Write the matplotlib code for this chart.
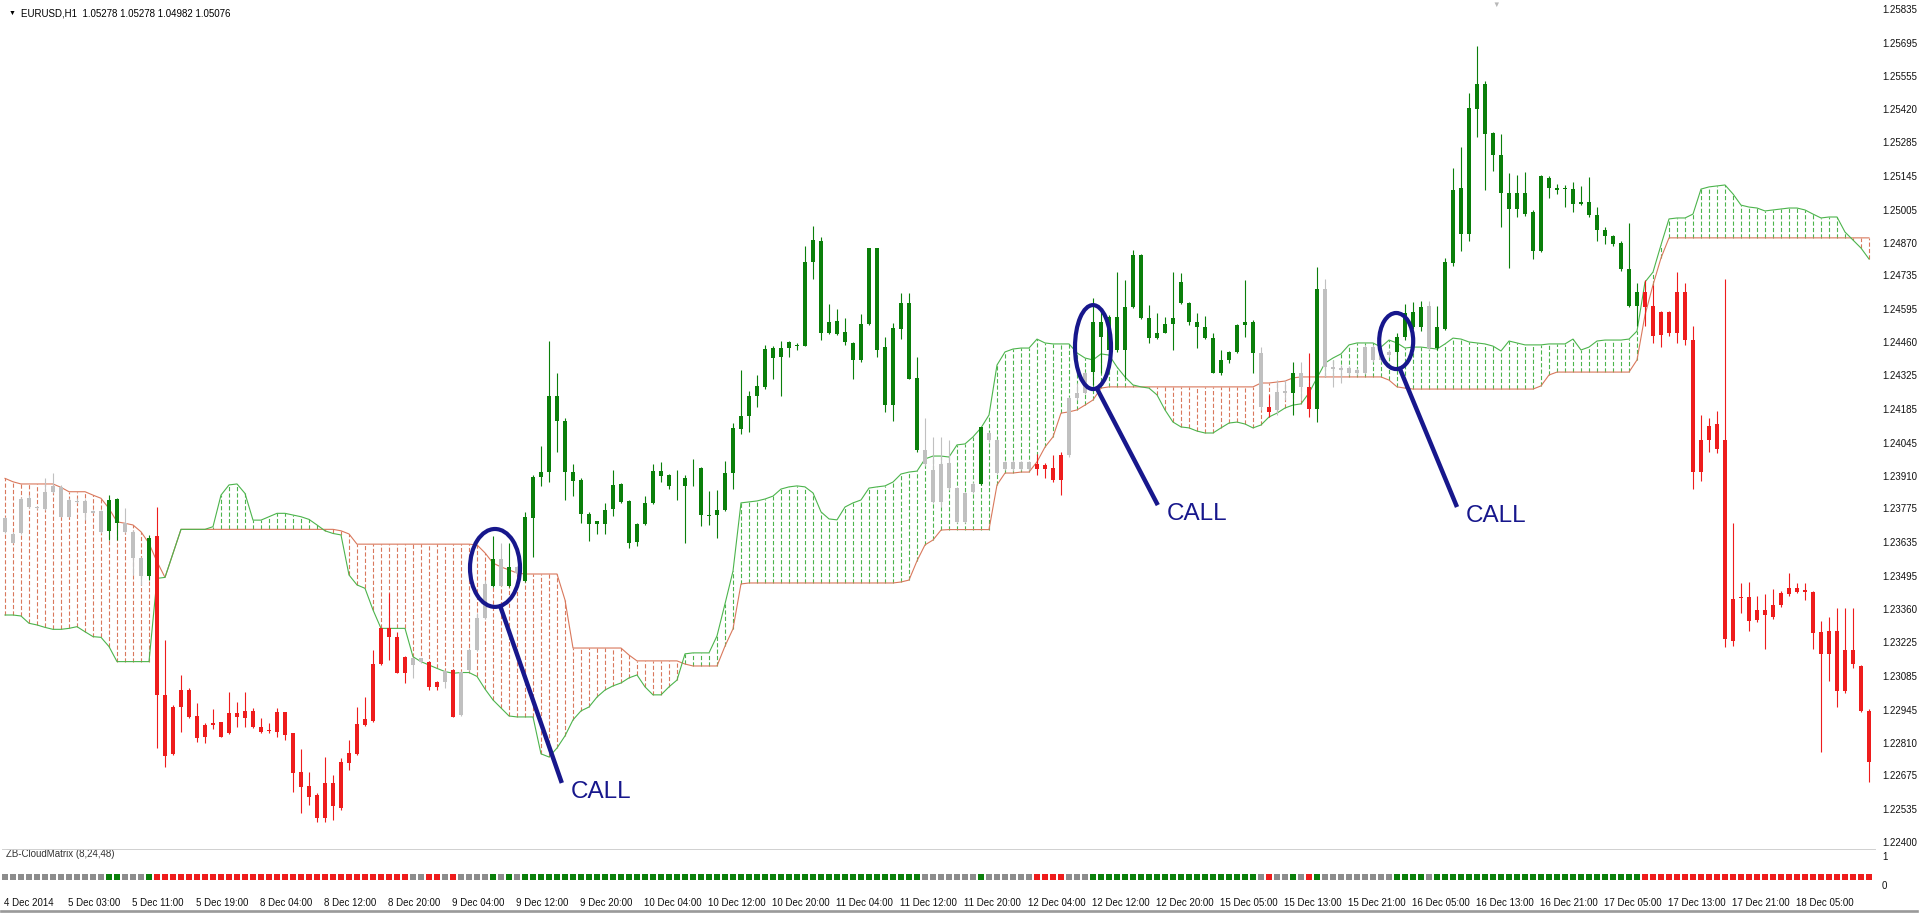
import numpy as np
import matplotlib
matplotlib.use("Agg")
import matplotlib.pyplot as plt
from matplotlib.patches import Ellipse, Rectangle
from matplotlib.transforms import blended_transform_factory

plt.rcParams["font.family"] = ["Liberation Sans", "DejaVu Sans"]
plt.rcParams["lines.scale_dashes"] = False

W, H = 1919, 913

symbol_title = "EURUSD,H1  1.05278 1.05278 1.04982 1.05076"
indicator_name = "ZB-CloudMatrix (8,24,48)"

date_labels = ["4 Dec 2014", "5 Dec 03:00", "5 Dec 11:00", "5 Dec 19:00", "8 Dec 04:00",
               "8 Dec 12:00", "8 Dec 20:00", "9 Dec 04:00", "9 Dec 12:00", "9 Dec 20:00",
               "10 Dec 04:00", "10 Dec 12:00", "10 Dec 20:00", "11 Dec 04:00", "11 Dec 12:00",
               "11 Dec 20:00", "12 Dec 04:00", "12 Dec 12:00", "12 Dec 20:00", "15 Dec 05:00",
               "15 Dec 13:00", "15 Dec 21:00", "16 Dec 05:00", "16 Dec 13:00", "16 Dec 21:00",
               "17 Dec 05:00", "17 Dec 13:00", "17 Dec 21:00", "18 Dec 05:00"]

price_ticks = [1.25835, 1.25695, 1.25555, 1.25420, 1.25285, 1.25145, 1.25005, 1.24870,
               1.24735, 1.24595, 1.24460, 1.24325, 1.24185, 1.24045, 1.23910, 1.23775,
               1.23635, 1.23495, 1.23360, 1.23225, 1.23085, 1.22945, 1.22810, 1.22675,
               1.22535, 1.22400]

open_ = [
    1.23734, 1.23670, 1.23814, 1.23819, 1.23782, 1.23844, 1.23867, 1.23865, 1.23810, 1.23806,
    1.23807, 1.23764, 1.23764, 1.23683, 1.23716, 1.23714, 1.23678, 1.23572, 1.23498, 1.23663,
    1.23007, 1.22958, 1.23027, 1.23027, 1.22920, 1.22883, 1.22890, 1.22894, 1.22934, 1.22931,
    1.22941, 1.22941, 1.22876, 1.22861, 1.22935, 1.22935, 1.22849, 1.22688, 1.22632, 1.22595,
    1.22643, 1.22643, 1.22732, 1.22766, 1.22887, 1.22908, 1.23134, 1.23281, 1.23281, 1.23247,
    1.23164, 1.23158, 1.23158, 1.23144, 1.23061, 1.23105, 1.23109, 1.23102, 1.23192, 1.23322,
    1.23465, 1.23457, 1.23568, 1.23457, 1.23534, 1.23475, 1.23737, 1.23906, 1.23925, 1.24134,
    1.23925, 1.23887, 1.23752, 1.23710, 1.23710, 1.23710, 1.23774, 1.23803, 1.23634, 1.23637,
    1.23710, 1.23796, 1.23910, 1.23866, 1.23866, 1.23866, 1.23899, 1.23749, 1.23744, 1.23749,
    1.23769, 1.23921, 1.24102, 1.24156, 1.24237, 1.24274, 1.24396, 1.24399, 1.24436, 1.24443,
    1.24446, 1.24789, 1.24499, 1.24499, 1.24494, 1.24461, 1.24387, 1.24387, 1.24534, 1.24428,
    1.24200, 1.24200, 1.24516, 1.24310, 1.24016, 1.24016, 1.23935, 1.23957, 1.23961, 1.23858,
    1.23837, 1.23876, 1.23876, 1.24085, 1.24057, 1.23968, 1.23968, 1.23968, 1.23968, 1.23958,
    1.23954, 1.23940, 1.23995, 1.24229, 1.24249, 1.24332, 1.24339, 1.24483, 1.24428, 1.24428,
    1.24428, 1.24606, 1.24558, 1.24476, 1.24476, 1.24499, 1.24535, 1.24623, 1.24544, 1.24524,
    1.24476, 1.24332, 1.24332, 1.24387, 1.24421, 1.24531, 1.24417, 1.24417, 1.24194, 1.24256,
    1.24260, 1.24249, 1.24334, 1.24274, 1.24183, 1.24678, 1.24359, 1.24355, 1.24355, 1.24347,
    1.24441, 1.24441, 1.24414, 1.24421, 1.24421, 1.24483, 1.24522, 1.24522, 1.24610, 1.24436,
    1.24516, 1.24786, 1.24906, 1.24906, 1.25422, 1.25316, 1.25230, 1.25076, 1.25010, 1.25010,
    1.24990, 1.24836, 1.24836, 1.25096, 1.25086, 1.25090, 1.25030, 1.25030, 1.24986, 1.24922,
    1.24896, 1.24866, 1.24762, 1.24610, 1.24610, 1.24666, 1.24610, 1.24586, 1.24586, 1.24666,
    1.24666, 1.24470, 1.24056, 1.24116, 1.24122, 1.24056, 1.23402, 1.23412, 1.23410, 1.23356,
    1.23356, 1.23376, 1.23426, 1.23446, 1.23446, 1.23438, 1.23430, 1.23266, 1.23270, 1.23270,
    1.23190, 1.23190, 1.23126, 1.22942,
]

close = [
    1.23679, 1.23634, 1.23672, 1.23780, 1.23777, 1.23771, 1.23844, 1.23741, 1.23741, 1.23801,
    1.23755, 1.23758, 1.23679, 1.23810, 1.23812, 1.23677, 1.23569, 1.23498, 1.23652, 1.23007,
    1.22757, 1.22763, 1.22958, 1.22915, 1.22828, 1.22835, 1.22884, 1.22835, 1.22849, 1.22915,
    1.22910, 1.22876, 1.22856, 1.22857, 1.22856, 1.22842, 1.22687, 1.22629, 1.22588, 1.22498,
    1.22498, 1.22547, 1.22540, 1.22728, 1.22763, 1.22883, 1.22901, 1.23134, 1.23244, 1.23099,
    1.23099, 1.23130, 1.23144, 1.23038, 1.23041, 1.23061, 1.22917, 1.22924, 1.23109, 1.23192,
    1.23325, 1.23568, 1.23457, 1.23534, 1.23509, 1.23740, 1.23906, 1.23925, 1.24237, 1.24237,
    1.24137, 1.23925, 1.23891, 1.23752, 1.23722, 1.23769, 1.23872, 1.23877, 1.23806, 1.23710,
    1.23799, 1.23928, 1.23928, 1.23913, 1.23869, 1.23902, 1.23902, 1.23943, 1.23749, 1.23769,
    1.23921, 1.24105, 1.24156, 1.24237, 1.24278, 1.24431, 1.24438, 1.24436, 1.24461, 1.24450,
    1.24789, 1.24881, 1.24877, 1.24543, 1.24549, 1.24502, 1.24458, 1.24534, 1.24847, 1.24847,
    1.24440, 1.24519, 1.24622, 1.24622, 1.24313, 1.23957, 1.23803, 1.23803, 1.23858, 1.23721,
    1.23721, 1.23844, 1.24109, 1.24057, 1.23920, 1.23936, 1.23936, 1.23936, 1.23936, 1.23936,
    1.23936, 1.23892, 1.23892, 1.23995, 1.24229, 1.24249, 1.24544, 1.24544, 1.24565, 1.24565,
    1.24606, 1.24819, 1.24819, 1.24558, 1.24496, 1.24535, 1.24558, 1.24709, 1.24623, 1.24544,
    1.24524, 1.24476, 1.24387, 1.24421, 1.24531, 1.24544, 1.24544, 1.24194, 1.24174, 1.24181,
    1.24249, 1.24334, 1.24277, 1.24183, 1.24678, 1.24359, 1.24351, 1.24347, 1.24334, 1.24334,
    1.24334, 1.24387, 1.24387, 1.24407, 1.24483, 1.24582, 1.24586, 1.24606, 1.24436, 1.24522,
    1.24790, 1.25086, 1.25096, 1.25426, 1.25526, 1.25522, 1.25322, 1.25230, 1.25076, 1.25076,
    1.25076, 1.24996, 1.25146, 1.25136, 1.25096, 1.25096, 1.25090, 1.25036, 1.25036, 1.24986,
    1.24922, 1.24896, 1.24870, 1.24762, 1.24666, 1.24606, 1.24486, 1.24490, 1.24496, 1.24496,
    1.24470, 1.23926, 1.23926, 1.24056, 1.24022, 1.23236, 1.23230, 1.23408, 1.23310, 1.23316,
    1.23336, 1.23326, 1.23376, 1.23422, 1.23430, 1.23432, 1.23262, 1.23176, 1.23176, 1.23022,
    1.23022, 1.23136, 1.22942, 1.22730,
]

high = [
    1.23741, 1.23679, 1.23823, 1.23830, 1.23785, 1.23899, 1.23920, 1.23872, 1.23817, 1.23817,
    1.23812, 1.23769, 1.23769, 1.23830, 1.23817, 1.23775, 1.23686, 1.23576, 1.23666, 1.23782,
    1.23233, 1.22965, 1.23089, 1.23034, 1.22975, 1.22890, 1.22949, 1.22897, 1.23020, 1.22979,
    1.23020, 1.22952, 1.22910, 1.22890, 1.22952, 1.22938, 1.22851, 1.22784, 1.22691, 1.22601,
    1.22753, 1.22677, 1.22746, 1.22821, 1.22958, 1.23000, 1.23192, 1.23284, 1.23425, 1.23267,
    1.23167, 1.23160, 1.23160, 1.23147, 1.23064, 1.23109, 1.23112, 1.23105, 1.23199, 1.23343,
    1.23479, 1.23663, 1.23634, 1.23634, 1.23540, 1.23759, 1.23913, 1.24031, 1.24465, 1.24333,
    1.24149, 1.23957, 1.23899, 1.23759, 1.23725, 1.23799, 1.23935, 1.23880, 1.23810, 1.23715,
    1.23828, 1.23960, 1.23965, 1.23916, 1.23935, 1.23913, 1.23980, 1.23946, 1.23847, 1.23852,
    1.23969, 1.24127, 1.24347, 1.24259, 1.24325, 1.24450, 1.24443, 1.24465, 1.24465, 1.24458,
    1.24855, 1.24940, 1.24892, 1.24619, 1.24597, 1.24561, 1.24461, 1.24575, 1.24850, 1.24850,
    1.24480, 1.24539, 1.24661, 1.24661, 1.24399, 1.24149, 1.24068, 1.24068, 1.24057, 1.23865,
    1.23844, 1.23885, 1.24112, 1.24092, 1.24060, 1.23971, 1.23975, 1.23971, 1.23971, 1.23999,
    1.23961, 1.23995, 1.24009, 1.24236, 1.24290, 1.24339, 1.24641, 1.24593, 1.24572, 1.24750,
    1.24716, 1.24840, 1.24823, 1.24613, 1.24579, 1.24565, 1.24750, 1.24744, 1.24627, 1.24579,
    1.24568, 1.24496, 1.24428, 1.24425, 1.24535, 1.24716, 1.24551, 1.24441, 1.24242, 1.24304,
    1.24304, 1.24380, 1.24380, 1.24417, 1.24771, 1.24719, 1.24387, 1.24366, 1.24362, 1.24355,
    1.24448, 1.24448, 1.24420, 1.24428, 1.24496, 1.24617, 1.24626, 1.24630, 1.24630, 1.24610,
    1.24806, 1.25176, 1.25266, 1.25486, 1.25682, 1.25536, 1.25326, 1.25316, 1.25156, 1.25150,
    1.25162, 1.25006, 1.25150, 1.25146, 1.25110, 1.25106, 1.25122, 1.25102, 1.25142, 1.25016,
    1.24936, 1.24902, 1.24876, 1.24950, 1.24706, 1.24716, 1.24696, 1.24590, 1.24590, 1.24750,
    1.24706, 1.24526, 1.24162, 1.24146, 1.24176, 1.24722, 1.23716, 1.23466, 1.23470, 1.23416,
    1.23422, 1.23442, 1.23436, 1.23510, 1.23466, 1.23466, 1.23436, 1.23310, 1.23326, 1.23366,
    1.23366, 1.23366, 1.23132, 1.22948,
]

low = [
    1.23672, 1.23631, 1.23670, 1.23775, 1.23774, 1.23769, 1.23840, 1.23738, 1.23738, 1.23796,
    1.23727, 1.23755, 1.23675, 1.23645, 1.23645, 1.23672, 1.23501, 1.23460, 1.23480, 1.22787,
    1.22711, 1.22759, 1.22853, 1.22910, 1.22814, 1.22807, 1.22865, 1.22832, 1.22846, 1.22876,
    1.22876, 1.22869, 1.22849, 1.22849, 1.22835, 1.22821, 1.22608, 1.22519, 1.22553, 1.22485,
    1.22485, 1.22492, 1.22533, 1.22698, 1.22759, 1.22880, 1.22897, 1.23130, 1.23151, 1.23096,
    1.23055, 1.23075, 1.23140, 1.23027, 1.23027, 1.23034, 1.22915, 1.22921, 1.23107, 1.23189,
    1.23318, 1.23450, 1.23455, 1.23450, 1.23505, 1.23472, 1.23575, 1.23869, 1.23884, 1.24009,
    1.23810, 1.23825, 1.23715, 1.23641, 1.23671, 1.23671, 1.23744, 1.23796, 1.23612, 1.23619,
    1.23707, 1.23793, 1.23884, 1.23854, 1.23810, 1.23634, 1.23869, 1.23704, 1.23707, 1.23652,
    1.23766, 1.23854, 1.24083, 1.24090, 1.24193, 1.24269, 1.24310, 1.24237, 1.24399, 1.24428,
    1.24443, 1.24722, 1.24469, 1.24494, 1.24490, 1.24450, 1.24310, 1.24377, 1.24531, 1.24399,
    1.24171, 1.24134, 1.24472, 1.24307, 1.24009, 1.23950, 1.23796, 1.23781, 1.23851, 1.23714,
    1.23714, 1.23837, 1.23871, 1.24050, 1.23917, 1.23933, 1.23930, 1.23933, 1.23933, 1.23913,
    1.23899, 1.23885, 1.23831, 1.23988, 1.24222, 1.24246, 1.24284, 1.24332, 1.24421, 1.24421,
    1.24311, 1.24599, 1.24554, 1.24455, 1.24472, 1.24496, 1.24428, 1.24618, 1.24531, 1.24435,
    1.24472, 1.24332, 1.24325, 1.24376, 1.24417, 1.24483, 1.24332, 1.24181, 1.24153, 1.24160,
    1.24222, 1.24160, 1.24222, 1.24150, 1.24133, 1.24318, 1.24277, 1.24290, 1.24327, 1.24327,
    1.24331, 1.24380, 1.24380, 1.24400, 1.24359, 1.24469, 1.24516, 1.24506, 1.24430, 1.24426,
    1.24510, 1.24776, 1.24836, 1.24876, 1.25306, 1.25086, 1.25166, 1.24936, 1.24766, 1.24976,
    1.24982, 1.24802, 1.24830, 1.25056, 1.25070, 1.25016, 1.24996, 1.25026, 1.24976, 1.24876,
    1.24866, 1.24856, 1.24752, 1.24606, 1.24526, 1.24526, 1.24456, 1.24442, 1.24486, 1.24456,
    1.24450, 1.23856, 1.23890, 1.24006, 1.24002, 1.23206, 1.23210, 1.23346, 1.23270, 1.23306,
    1.23196, 1.23320, 1.23370, 1.23416, 1.23426, 1.23396, 1.23196, 1.22770, 1.23066, 1.22956,
    1.23016, 1.23116, 1.22936, 1.22650,
]

span_green = [
    1.23336, 1.23336, 1.23332, 1.23302, 1.23295, 1.23285, 1.23277, 1.23277, 1.23281, 1.23288,
    1.23267, 1.23247, 1.23244, 1.23206, 1.23144, 1.23144, 1.23144, 1.23144, 1.23144, 1.23487,
    1.23491, 1.23590, 1.23689, 1.23689, 1.23689, 1.23689, 1.23700, 1.23830, 1.23872, 1.23876,
    1.23837, 1.23727, 1.23727, 1.23741, 1.23755, 1.23755, 1.23748, 1.23741, 1.23730, 1.23707,
    1.23683, 1.23672, 1.23666, 1.23501, 1.23460, 1.23446, 1.23357, 1.23281, 1.23281, 1.23281,
    1.23281, 1.23164, 1.23144, 1.23130, 1.23116, 1.23103, 1.23096, 1.23099, 1.23099, 1.23083,
    1.23031, 1.22986, 1.22953, 1.22920, 1.22916, 1.22916, 1.22916, 1.22764, 1.22751, 1.22788,
    1.22838, 1.22904, 1.22941, 1.22957, 1.22998, 1.23027, 1.23044, 1.23056, 1.23077, 1.23089,
    1.23040, 1.23007, 1.23007, 1.23040, 1.23068, 1.23176, 1.23180, 1.23180, 1.23180, 1.23250,
    1.23382, 1.23517, 1.23798, 1.23802, 1.23806, 1.23814, 1.23826, 1.23855, 1.23864, 1.23868,
    1.23864, 1.23839, 1.23761, 1.23732, 1.23728, 1.23781, 1.23798, 1.23810, 1.23859, 1.23864,
    1.23868, 1.23884, 1.23917, 1.23925, 1.23929, 1.23979, 1.23991, 1.23991, 1.23987, 1.24037,
    1.24041, 1.24070, 1.24107, 1.24160, 1.24366, 1.24420, 1.24432, 1.24436, 1.24436, 1.24473,
    1.24457, 1.24453, 1.24453, 1.24453, 1.24416, 1.24395, 1.24387, 1.24412, 1.24407, 1.24358,
    1.24317, 1.24284, 1.24276, 1.24271, 1.24243, 1.24181, 1.24131, 1.24111, 1.24107, 1.24094,
    1.24086, 1.24086, 1.24107, 1.24127, 1.24131, 1.24123, 1.24107, 1.24119, 1.24152, 1.24168,
    1.24189, 1.24201, 1.24206, 1.24251, 1.24313, 1.24374, 1.24395, 1.24412, 1.24449, 1.24457,
    1.24457, 1.24457, 1.24440, 1.24469, 1.24457, 1.24436, 1.24440, 1.24440, 1.24436, 1.24432,
    1.24453, 1.24477, 1.24473, 1.24461, 1.24457, 1.24453, 1.24444, 1.24424, 1.24465, 1.24457,
    1.24449, 1.24449, 1.24449, 1.24453, 1.24453, 1.24453, 1.24473, 1.24428, 1.24440, 1.24465,
    1.24469, 1.24469, 1.24469, 1.24473, 1.24506, 1.24708, 1.24749, 1.24861, 1.24968, 1.24972,
    1.24972, 1.24988, 1.25091, 1.25100, 1.25104, 1.25108, 1.25071, 1.25025, 1.25017, 1.25013,
    1.25001, 1.25005, 1.25009, 1.25013, 1.25013, 1.25005, 1.24988, 1.24972, 1.24976, 1.24976,
    1.24914, 1.24881, 1.24848, 1.24803,
]

span_red = [
    1.23899, 1.23885, 1.23876, 1.23876, 1.23876, 1.23876, 1.23876, 1.23862, 1.23844, 1.23844,
    1.23844, 1.23830, 1.23817, 1.23775, 1.23720, 1.23714, 1.23707, 1.23679, 1.23631, 1.23556,
    1.23491, 1.23590, 1.23689, 1.23689, 1.23689, 1.23689, 1.23689, 1.23689, 1.23689, 1.23689,
    1.23689, 1.23689, 1.23689, 1.23689, 1.23689, 1.23689, 1.23689, 1.23689, 1.23689, 1.23689,
    1.23689, 1.23689, 1.23683, 1.23670, 1.23628, 1.23628, 1.23628, 1.23628, 1.23628, 1.23628,
    1.23628, 1.23628, 1.23628, 1.23628, 1.23628, 1.23628, 1.23628, 1.23628, 1.23628, 1.23625,
    1.23592, 1.23550, 1.23534, 1.23522, 1.23509, 1.23505, 1.23505, 1.23505, 1.23505, 1.23505,
    1.23398, 1.23200, 1.23200, 1.23200, 1.23200, 1.23200, 1.23200, 1.23200, 1.23171, 1.23147,
    1.23147, 1.23147, 1.23147, 1.23147, 1.23147, 1.23134, 1.23126, 1.23126, 1.23126, 1.23126,
    1.23208, 1.23279, 1.23464, 1.23468, 1.23468, 1.23468, 1.23468, 1.23468, 1.23468, 1.23468,
    1.23468, 1.23468, 1.23468, 1.23468, 1.23468, 1.23468, 1.23468, 1.23468, 1.23468, 1.23468,
    1.23468, 1.23468, 1.23472, 1.23480, 1.23559, 1.23625, 1.23645, 1.23686, 1.23688, 1.23688,
    1.23688, 1.23688, 1.23688, 1.23688, 1.23872, 1.23921, 1.23921, 1.23925, 1.23925, 1.23967,
    1.24028, 1.24070, 1.24168, 1.24173, 1.24181, 1.24201, 1.24222, 1.24271, 1.24276, 1.24276,
    1.24276, 1.24276, 1.24276, 1.24276, 1.24276, 1.24276, 1.24276, 1.24276, 1.24276, 1.24276,
    1.24276, 1.24276, 1.24276, 1.24276, 1.24276, 1.24276, 1.24276, 1.24292, 1.24292, 1.24296,
    1.24300, 1.24313, 1.24317, 1.24317, 1.24317, 1.24317, 1.24317, 1.24317, 1.24317, 1.24317,
    1.24317, 1.24317, 1.24317, 1.24304, 1.24276, 1.24271, 1.24267, 1.24267, 1.24267, 1.24267,
    1.24267, 1.24267, 1.24267, 1.24267, 1.24267, 1.24267, 1.24267, 1.24267, 1.24267, 1.24267,
    1.24267, 1.24267, 1.24280, 1.24325, 1.24337, 1.24337, 1.24337, 1.24337, 1.24337, 1.24337,
    1.24337, 1.24337, 1.24337, 1.24337, 1.24387, 1.24572, 1.24696, 1.24807, 1.24890, 1.24890,
    1.24890, 1.24890, 1.24890, 1.24890, 1.24890, 1.24890, 1.24890, 1.24890, 1.24890, 1.24890,
    1.24890, 1.24890, 1.24890, 1.24890, 1.24890, 1.24890, 1.24890, 1.24890, 1.24890, 1.24890,
    1.24890, 1.24890, 1.24890, 1.24890,
]

# g = bullish signal, r = bearish, n = neutral (also used for candle colour)
states = (
    "nnnnnnnnnn" "nnnggnnngr" "rrrrrrrrrr" "rrrrrrrrrr" "rrrrrrrrrr"
    "rnnrrnrnnn" "ngngnggggg" "gggggggggg" "gggggggggg" "gggggggggg"
    "gggggggggg" "gggggnnnnn" "nngnnnnnnr" "rrrnnngggg" "gggggggggg"
    "gggggggnrn" "ngnrgnnnnn" "nnnnggggng" "gggggggggg" "gggggggggg"
    "gggggrrrrr" "rrrrrrrrrr" "rrrrrrrrrr" "rrrr"
)

# CALL marks: ellipse centre (bar, price), width (bars), height (price), line end (bar, price)
calls = [
    (61.25, 1.23530, 6.25, 0.00321, 69.6, 1.22644),
    (136.0, 1.24440, 4.5, 0.00346, 144.1, 1.23789),
    (173.9, 1.24465, 4.25, 0.00231, 181.5, 1.23781),
]

GREEN = "#0a7f0a"
RED = "#ee1c1c"
GREY_CANDLE = "#c0c0c0"
GREY_SIGNAL = "#8c8c8c"
CLOUD_GREEN = "#4cb44c"
CLOUD_RED = "#d9785c"
NAVY = "#17178c"


def fx(px):
    return px / W


def fy(py):
    return 1 - py / H


o = np.array(open_)
c = np.array(close)
hi = np.array(high)
lo = np.array(low)
sg = np.array(span_green)
sr = np.array(span_red)
x = np.arange(len(o))

candle_col = [{"g": GREEN, "r": RED, "n": GREY_CANDLE}[s] for s in states]
signal_col = [{"g": GREEN, "r": RED, "n": GREY_SIGNAL}[s] for s in states]

fig = plt.figure(figsize=(W / 100, H / 100), dpi=100)
fig.patch.set_facecolor("white")

# price window
ax = fig.add_axes([fx(2), fy(848), fx(1875) - fx(2), fy(1) - fy(848)])
ax.set_xlim(-0.375, 233.75)
ax.set_ylim(1.22376, 1.25866)
for s in ax.spines.values():
    s.set_visible(False)
ax.set_xticks([])
ax.yaxis.tick_right()
ax.set_yticks(price_ticks)
ax.set_yticklabels([f"{v:.5f}" for v in price_ticks])
ax.tick_params(axis="y", length=0, pad=5, labelsize=7, labelcolor="#111111")

# cloud: dashed verticals between the two spans
top = np.maximum(sg, sr)
bot = np.minimum(sg, sr)
m = (top - bot) > 0.00003
cloud_col = np.where(sg > sr, CLOUD_GREEN, CLOUD_RED)
ax.vlines(x[m], bot[m], top[m], colors=cloud_col[m], linewidth=0.8,
          linestyles=[(0, (3.0, 1.6))], zorder=1)
ax.plot(x, sr, color=CLOUD_RED, lw=0.8, zorder=2)
ax.plot(x, sg, color=CLOUD_GREEN, lw=0.8, zorder=2)

# candles
ax.vlines(x, lo, hi, colors=candle_col, linewidth=0.8, zorder=3)
body = np.maximum(np.abs(c - o), 0.00003)
ax.bar(x, body, bottom=np.minimum(o, c), width=0.62, color=candle_col,
       linewidth=0, zorder=4)

# CALL annotations
ang = np.deg2rad(-78)
for cx, cy, ew, eh, ex, ey in calls:
    ax.add_patch(Ellipse((cx, cy), ew, eh, fill=False, edgecolor=NAVY, lw=3.0, zorder=6))
    sx = cx + ew / 2 * np.cos(ang)
    sy = cy + eh / 2 * np.sin(ang)
    ax.plot([sx, ex], [sy, ey], color=NAVY, lw=3.2, solid_capstyle="butt", zorder=6)
    ax.text(ex + 1.1, ey - 0.00062, "CALL", color=NAVY, fontsize=17.5,
            ha="left", va="baseline", zorder=6)

# signal window
ax2 = fig.add_axes([fx(2), fy(892), fx(1875) - fx(2), fy(849) - fy(892)])
ax2.set_xlim(-0.375, 233.75)
ax2.set_ylim(-0.233, 1.233)
for s in ax2.spines.values():
    s.set_visible(False)
ax2.set_xticks([])
ax2.yaxis.tick_right()
ax2.set_yticks([0, 1])
ax2.set_yticklabels(["0", "1"])
ax2.tick_params(axis="y", length=0, pad=5, labelsize=7, labelcolor="#111111")
ax2.bar(x, 0.2, bottom=0.167, width=0.68, color=signal_col, linewidth=0)
ax2.text(0.002, 0.88, indicator_name, transform=ax2.transAxes, fontsize=7,
         color="#333333", ha="left", va="center")

fig.add_artist(plt.Line2D([fx(2), fx(1875)], [fy(848.5), fy(848.5)],
                          color="#d0d0d0", lw=0.7))

# time axis labels
tr = blended_transform_factory(ax2.transData, fig.transFigure)
for k, lab in enumerate(date_labels):
    ax2.text(k * 8 - 0.125, fy(903), lab, transform=tr, fontsize=7,
             color="#111111", ha="left", va="center", clip_on=False)

# header and frame
fig.text(fx(12), fy(13), "\u25bc", fontsize=5, color="black", ha="center", va="center")
fig.text(fx(21), fy(13), symbol_title, fontsize=7, color="black", ha="left", va="center")
fig.text(fx(1496), fy(5), "\u25bc", fontsize=5.5, color="#b8b8b8", ha="center", va="center")
fig.add_artist(Rectangle((fx(0.8), fy(912.2)), fx(1917.4), 1 - fy(1.6),
                         fill=False, edgecolor="#9a9a9a", lw=1.2))

fig.savefig("out.png", dpi=100, facecolor="white")
